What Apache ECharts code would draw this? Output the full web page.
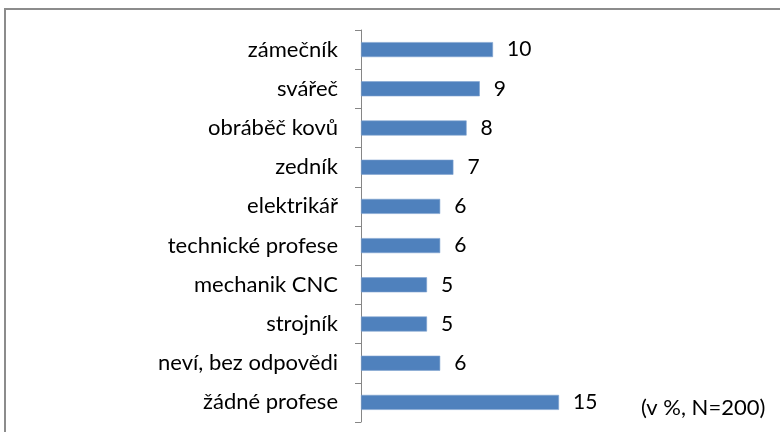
<!DOCTYPE html>
<html>
<head>
<meta charset="utf-8">
<script src="https://cdn.jsdelivr.net/npm/echarts@6/dist/echarts.min.js"></script>
<style>
  html, body { margin: 0; padding: 0; background: #fff; }
  #chart { width: 780px; height: 432px; }
</style>
</head>
<body>
<div id="chart"></div>
<script>
// profese, odshora dolů
var categories = ['zámečník', 'svářeč', 'obráběč kovů', 'zedník', 'elektrikář',
    'technické profese', 'mechanik CNC', 'strojník', 'neví, bez odpovědi', 'žádné profese'];
var values = [10, 9, 8, 7, 6, 6, 5, 5, 6, 15];
var note = '(v %, N=200)';

var font = 'Lato, "Open Sans", sans-serif';
var chart = echarts.init(document.getElementById('chart'));

var option = {
    animation: false,
    backgroundColor: '#fff',
    grid: { left: 361, top: 30, right: 155, bottom: 10, containLabel: false },
    xAxis: {
        type: 'value', min: 0, max: 20, show: false
    },
    yAxis: {
        type: 'category',
        inverse: true,
        data: categories,
        axisLine: { show: true, lineStyle: { color: '#868686', width: 1 } },
        axisTick: { show: true, length: 6, lineStyle: { color: '#868686' } },
        axisLabel: { margin: 23, color: '#000', fontSize: 22, fontFamily: font }
    },
    series: [{
        type: 'bar',
        data: values,
        barWidth: 15,
        itemStyle: { color: '#4F81BD', borderColor: '#7FA3D0', borderWidth: 0.6 },
        label: {
            show: true, position: 'right', distance: 14,
            color: '#000', fontSize: 21, fontFamily: font
        }
    }],
    graphic: [
        {
            type: 'rect', silent: true,
            shape: { x: 5, y: 9, width: 800, height: 450 },
            style: { fill: 'none', stroke: '#8c8c8c', lineWidth: 2 }
        },
        {
            type: 'text', left: 641, top: 397,
            style: { text: note, fill: '#000', fontSize: 22, fontFamily: font }
        }
    ]
};
chart.setOption(option);
</script>
</body>
</html>
